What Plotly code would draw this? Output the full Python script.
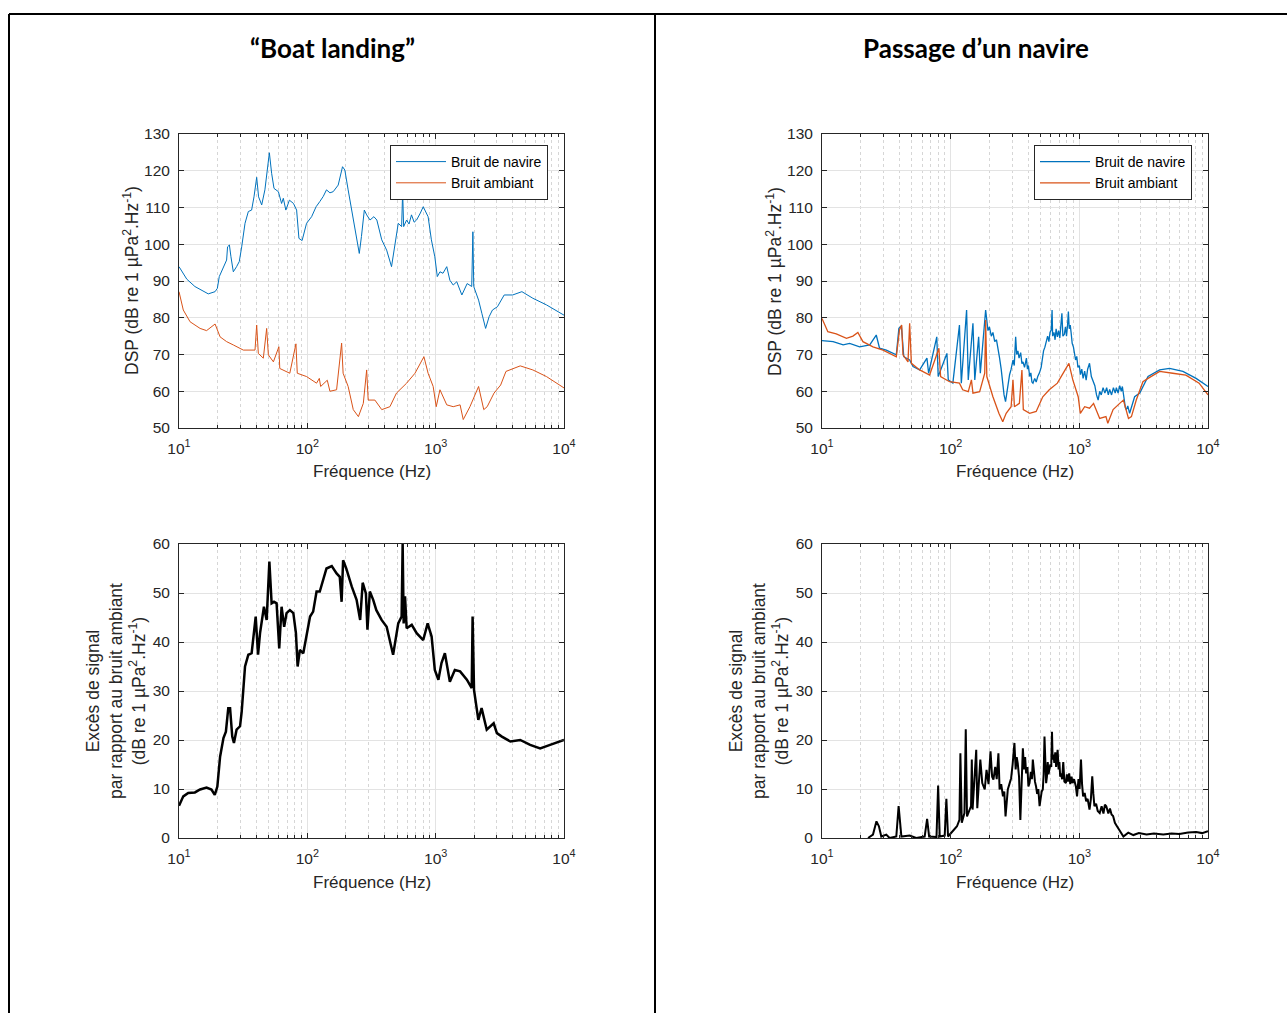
import plotly.graph_objects as go

W, H = 1287, 1013

# ---------------- DATA ----------------
# "Boat landing" - ship noise (Bruit de navire)
freq_bl_ship = [10, 11.5, 13.3, 14.6, 16.9, 19.1, 19.9, 20.6, 22.1, 23.5, 23.9, 24.7, 25.4, 26.5, 28.1,
                29.5, 30.8, 32.7, 34.7, 36.8, 38.4, 40.3, 41.7, 44.1, 46.7, 50.6, 52.7, 55, 59.5, 63, 65,
                68, 72.5, 78, 82.5, 86, 91, 98.6, 108, 117, 125, 133, 141, 150, 159, 174, 188, 196, 208,
                226, 243, 254, 264, 278, 290, 308, 330, 348, 380, 415, 453, 481, 511, 543, 553, 563,
                594, 620, 648, 680, 710, 760, 800, 873, 926, 985, 1030, 1080, 1140, 1220, 1290, 1370,
                1460, 1600, 1760, 1910, 1950, 1980, 2160, 2290, 2450, 2610, 2770, 3030, 3420, 3980,
                4700, 5720, 7300, 10000]
dsp_bl_ship = [93.9, 90.5, 88.5, 87.8, 86.5, 87.1, 88, 91.2, 93.9, 95.7, 99.3, 99.8, 96.6, 92.5, 93.9,
               95.3, 99.3, 105.7, 108.9, 109.3, 112.9, 118.2, 112.9, 110.7, 114.8, 124.9, 119.3, 115.2,
               114.3, 111.1, 112.5, 109.3, 112, 111.1, 109.3, 101.6, 101, 105.7, 107.5, 110.2, 111.6,
               113, 114.8, 114, 114.3, 116.1, 121.1, 120.2, 114.8, 107.5, 102.1, 97.5, 102.1, 109.3,
               108, 106.6, 107.5, 106.6, 101.2, 98.4, 93.9, 100.2, 105.7, 104.8, 114.3, 104.8, 106.6,
               105.5, 108, 106, 106.6, 108.5, 110.2, 107.5, 101.2, 96.6, 91.2, 92.5, 92.1, 93.9, 90.2,
               88.9, 89.8, 86.2, 89.3, 88.5, 103.4, 88.5, 84.8, 81.2, 77.1, 80.3, 82.1, 83, 86.2, 86.2,
               87.1, 85.3, 83.5, 80.7]

# "Boat landing" - ambient noise (Bruit ambiant)
freq_bl_amb = [10, 10.8, 12.2, 14.6, 16.4, 19.1, 20.9, 23.5, 26.5, 31.7, 39.1, 40.3, 41.5, 45.4, 48.2,
               49.7, 54.4, 60, 61, 73, 81.5, 83.5, 98.6, 118, 124, 127, 143, 150, 169, 185, 190, 208,
               228, 250, 273, 290, 298, 336, 380, 440, 495, 594, 690, 810, 873, 956, 1010, 1080, 1220,
               1370, 1550, 1640, 1850, 2160, 2370, 2520, 2850, 3210, 3530, 4560, 5720, 7300, 10000]
dsp_bl_amb = [87.1, 82.1, 78.9, 77.1, 76.5, 78.3, 74.8, 73.5, 72.6, 71.2, 71.2, 78.0, 70.3, 69, 77.1,
              69.9, 68, 72.1, 66.2, 64.9, 72.9, 64.9, 64, 62.2, 63.5, 61.3, 63, 60, 60.4, 73.1, 64.9,
              61.3, 55, 53.1, 56.7, 65.8, 57.6, 57.6, 55, 55.8, 59.5, 62.2, 64.9, 69.4, 64.9, 61.3,
              55.8, 60.4, 56.3, 55.8, 56.3, 52.3, 55.8, 61.3, 55, 55.8, 59.5, 61.7, 65.4, 66.9, 65.8,
              64, 60.9]

# "Passage d'un navire" - ship noise
freq_pn_ship = [10, 12.2, 14.6, 16.4, 19.6, 23.5, 26.4, 28, 31.6, 37.8, 39.6, 41.4, 43.2, 48, 51, 57.4,
                65.4, 67.4, 78, 80, 93.5, 95.8, 104, 117, 121, 133, 137, 149, 154, 165, 170, 187, 190,
                195, 200, 207, 213, 220, 227, 233, 240, 247, 254, 260, 267, 274, 280, 287, 295, 305,
                312, 320, 326, 333, 340, 350, 358, 365, 375, 388, 395, 402, 411, 420, 428, 436, 450,
                462, 475, 490, 505, 515, 527, 540, 555, 567, 580, 592, 605, 614, 620, 635, 648, 660,
                675, 690, 705, 718, 732, 745, 765, 780, 795, 810, 822, 835, 850, 863, 880, 900, 915,
                935, 955, 975, 1000, 1020, 1045, 1070, 1100, 1130, 1160, 1200, 1240, 1280, 1320, 1360,
                1400, 1440, 1480, 1530, 1580, 1630, 1680, 1720, 1780, 1840, 1900, 1940, 2000, 2060,
                2120, 2160, 2200, 2240, 2280, 2320, 2380, 2460, 2550, 2690, 2950, 3420, 4210, 5030,
                6380, 8080, 10000]
dsp_pn_ship = [73.8, 73.5, 72.6, 73, 72.1, 72.6, 75.3, 71.7, 71.2, 69.9, 77.1, 77.8, 69.4, 68.5, 66.7,
               65.8, 69, 64.9, 74.8, 64, 70.3, 63.1, 62.2, 78, 62.2, 82.1, 63.1, 78.5, 63.1, 74.8,
               64.9, 82.1, 80, 76.5, 77.5, 75, 76, 73.5, 74, 71, 69, 66, 62, 59, 57.2, 60, 62, 64.5,
               66, 68.5, 67, 74.8, 70, 71, 69, 70.5, 67.5, 68, 66.5, 69, 66, 67, 64, 65, 62.5, 62.2,
               63.5, 62.5, 64, 65, 66.5, 68.5, 71, 72, 73.5, 75, 73.5, 76, 76.7, 82.1, 75, 76, 74, 77,
               74.8, 76.5, 74.5, 77, 81.2, 75, 75.5, 77.5, 75, 78, 81.7, 77, 78, 76, 73, 72, 70, 68.5,
               69.5, 66.5, 67, 64.5, 66, 63.5, 65.5, 63, 66, 67.6, 64, 62.5, 61.5, 59, 57.6, 60, 59,
               61, 59.5, 61, 59, 60.5, 59, 61, 59.5, 61, 59.5, 61.5, 60, 61.3, 59, 57, 55.5, 55, 56,
               54, 56, 58.5, 59.5, 64, 65.8, 66.2, 65.4, 63.5, 61.3]

# "Passage d'un navire" - ambient noise
freq_pn_amb = [10, 11.1, 12.9, 15.5, 17.4, 19, 20.8, 24.9, 29.8, 35.6, 37.8, 40, 41.6, 42.6, 46.6, 48,
               49.5, 57.4, 68.6, 81, 83.5, 98, 117, 124, 137, 145, 149, 168, 184, 187, 191, 213, 237,
               254, 270, 295, 305, 313, 342, 358, 367, 411, 462, 520, 584, 675, 795, 830, 890, 980,
               1018, 1100, 1200, 1290, 1440, 1610, 1665, 1830, 2060, 2200, 2410, 2540, 2770, 3120,
               3420, 4210, 5320, 6730, 8530, 10000]
dsp_pn_amb = [79.8, 76.2, 75.6, 74.4, 75, 76, 73.5, 72.1, 71.2, 69.9, 69.4, 76.7, 78, 69.9, 68, 78.5,
              67.6, 65.8, 64.4, 71.7, 64, 62.6, 62.2, 60.4, 59.9, 63.1, 59.5, 59.9, 64.9, 79.4, 64,
              58.5, 54, 51.7, 54, 55.8, 63.1, 55.8, 56.7, 65.8, 55, 54, 54.5, 58.5, 60.4, 62.2, 66.7,
              67.6, 63.1, 58.5, 54, 55.8, 55.4, 56.7, 52.6, 53.1, 51.3, 55, 56.7, 57.6, 52.6, 53.1,
              57.6, 62.6, 63.5, 65.4, 64.9, 64.4, 62.2, 59]

# Signal excess - "Boat landing"
freq_bl_exc = [10, 10.8, 11.8, 13.3, 14.6, 16.4, 17.9, 19, 19.9, 20.9, 22.2, 23.2, 24.2, 25, 26, 26.8,
               28.1, 29.9, 30.8, 32.7, 34.7, 36.8, 39.6, 41.3, 42.8, 45.9, 48.2, 50.6, 52.7, 55, 57.6,
               60.4, 63, 66, 68.9, 73.1, 77.8, 81.5, 84, 87.5, 93, 98.9, 105, 111, 118, 125, 133, 141,
               155, 169, 179, 185, 190, 201, 222, 242, 258, 270, 286, 294, 307, 326, 345, 379, 415,
               453, 466, 511, 543, 553, 563, 577, 594, 651, 711, 800, 866, 930, 985, 1050, 1110, 1180,
               1290, 1410, 1550, 1750, 1910, 1940, 1990, 2150, 2280, 2500, 2830, 3000, 3280, 3820,
               4560, 5450, 6520, 7790, 10000]
exc_bl = [6.6, 8.5, 9.2, 9.3, 9.9, 10.3, 9.9, 8.8, 10.5, 16.6, 20.4, 21.7, 26.5, 26.5, 20.7, 19.4, 22.1,
          22.8, 25.8, 35, 37.4, 37.7, 45.2, 37.4, 41.8, 47.2, 44.5, 56.4, 47.9, 48.2, 47.9, 38.7, 47.2,
          43.1, 45.9, 46.5, 45.9, 41.8, 35, 38.4, 37.7, 41.4, 45.2, 46.2, 50.3, 50.3, 52.7, 55, 55.5,
          54, 53.3, 48.2, 56.7, 55, 51.3, 48.6, 44.5, 52.1, 49.9, 42.5, 50.3, 48.6, 46.5, 44.5, 43.1,
          39.1, 37.4, 43.8, 45.2, 60, 43.8, 49.3, 42.8, 43.5, 41.8, 40.4, 43.8, 41.1, 34.3, 32.3, 35.7,
          37.7, 31.9, 34.3, 34, 32.3, 30.6, 45.2, 30.2, 24.1, 26.5, 22.1, 23.4, 21.4, 20.7, 19.7, 20,
          19, 18.3, 19, 20]

# Signal excess - "Passage d'un navire"
freq_pn_exc = [22.8, 24.9, 26.5, 27.7, 28.9, 31.6, 33.5, 37.8, 39.4, 41.4, 48, 54, 62.8, 65.6, 68,
               77.6, 79.9, 82.2, 89.9, 92.6, 95.4, 104, 112, 117, 119, 122, 128, 131, 134, 144, 146,
               148, 158, 161, 170, 176, 184, 190, 197, 204, 210, 215, 222, 228, 235, 240, 247, 255,
               261, 267, 272, 278, 286, 295, 303, 313, 320, 326, 332, 340, 348, 356, 364, 372, 379,
               386, 395, 402, 410, 420, 428, 435, 445, 452, 461, 470, 480, 491, 500, 510, 520, 528,
               536, 544, 552, 560, 568, 576, 585, 595, 605, 613, 620, 630, 639, 650, 660, 670, 678,
               690, 700, 710, 720, 735, 750, 765, 786, 800, 815, 834, 850, 870, 887, 910, 940, 960,
               985, 1005, 1030, 1050, 1070, 1100, 1130, 1160, 1200, 1230, 1260, 1285, 1310, 1350,
               1390, 1440, 1490, 1540, 1580, 1620, 1680, 1730, 1780, 1830, 1890, 1950, 2000, 2070,
               2130, 2200, 2400, 2630, 2900, 3330, 3800, 4490, 5200, 6000, 7000, 8080, 9000, 10000]
exc_pn = [0, 0.7, 3.4, 2.4, 0.3, 0.7, 0, 0.3, 6.5, 0.3, 0.5, 0, 0.3, 3.9, 0.3, 0.2, 10.7, 0.3, 0.5, 8,
          0.3, 1.4, 2.4, 3.7, 17.3, 3.1, 5.1, 22.2, 4.4, 6.5, 16, 5.8, 18, 6.1, 16, 11.2, 9.9, 13.9,
          11, 17.7, 12.5, 11.9, 14.5, 12, 17.3, 9.9, 11, 8.5, 9.5, 4.4, 7.5, 9.9, 11, 12.2, 15,
          19.4, 14, 16.5, 15.3, 12.5, 3.7, 13, 18.3, 14, 16.5, 13.2, 14.5, 10.5, 11.2, 13.5, 12, 16,
          12.5, 11.5, 10.5, 9, 10, 6.5, 8, 9.5, 9.9, 13, 20.7, 14.5, 11.2, 12.5, 15.5, 13, 13.9, 15,
          14.5, 21.7, 16, 17, 15.3, 17.5, 14.5, 16.5, 18, 14, 15.5, 12.5, 13.2, 12, 15.5, 11.5,
          11.2, 13, 11.5, 13.2, 11, 12.5, 11.2, 12, 10.5, 8.5, 12, 10, 16, 11, 8.5, 9.2, 7.5, 8,
          5.8, 8, 12.6, 9, 6.5, 7, 5.5, 5.1, 6.5, 5, 6.8, 6.5, 5, 6, 4.8, 4.5, 3.1, 2.5, 2, 1.4, 0.8,
          0.3, 1.1, 0.6, 1, 0.7, 0.9, 0.7, 0.9, 0.8, 1.1, 1.2, 1.0, 1.4]

titles = ["\u201cBoat landing\u201d", "Passage d\u2019un navire"]
legend_names = ["Bruit de navire", "Bruit ambiant"]
xtick_vals = [10, 100, 1000, 10000]
xtick_text = ["10<sup>1</sup>", "10<sup>2</sup>", "10<sup>3</sup>", "10<sup>4</sup>"]
minor_vals = [m * d for d in (10, 100, 1000) for m in range(2, 10)]
xlabel = "Fréquence (Hz)"
ylabel_dsp = "DSP (dB re 1 µPa<sup>2</sup>.Hz<sup>-1</sup>)"
ylabel_exc = "Excès de signal<br>par rapport au bruit ambiant<br>(dB re 1 µPa<sup>2</sup>.Hz<sup>-1</sup>)"

BLUE = "#0072BD"
ORANGE = "#D95319"
AX = "#262626"
FONT = "Liberation Sans, Arial, sans-serif"

# ---------------- LAYOUT GEOMETRY (pixels) ----------------
cols = [(179, 564), (822, 1208)]
rows = [(134, 428), (544, 838)]


def px_x(x):
    return x / W


def px_y(y):
    return 1 - y / H


fig = go.Figure()

fig.add_trace(go.Scatter(x=freq_bl_ship, y=dsp_bl_ship, mode="lines", name=legend_names[0],
                         line=dict(color=BLUE, width=1), xaxis="x", yaxis="y", legend="legend"))
fig.add_trace(go.Scatter(x=freq_bl_amb, y=dsp_bl_amb, mode="lines", name=legend_names[1],
                         line=dict(color=ORANGE, width=1), xaxis="x", yaxis="y", legend="legend"))
fig.add_trace(go.Scatter(x=freq_pn_ship, y=dsp_pn_ship, mode="lines", name=legend_names[0],
                         line=dict(color=BLUE, width=1.3), xaxis="x2", yaxis="y2", legend="legend2"))
fig.add_trace(go.Scatter(x=freq_pn_amb, y=dsp_pn_amb, mode="lines", name=legend_names[1],
                         line=dict(color=ORANGE, width=1.3), xaxis="x2", yaxis="y2", legend="legend2"))
fig.add_trace(go.Scatter(x=freq_bl_exc, y=exc_bl, mode="lines", showlegend=False,
                         line=dict(color="black", width=2.5), xaxis="x3", yaxis="y3"))
fig.add_trace(go.Scatter(x=freq_pn_exc, y=exc_pn, mode="lines", showlegend=False,
                         line=dict(color="black", width=2), xaxis="x4", yaxis="y4"))


def xaxis(col, row, anchor):
    x0, x1 = cols[col]
    return dict(type="log", range=[1, 4], domain=[px_x(x0), px_x(x1)], anchor=anchor,
                tickvals=xtick_vals, ticktext=xtick_text, ticks="inside", ticklen=5,
                tickcolor=AX, tickwidth=1, showline=True, linecolor=AX, linewidth=1, mirror="allticks",
                showgrid=True, gridcolor="#e3e3e3", gridwidth=1, zeroline=False, automargin=False,
                ticklabelstandoff=6,
                tickfont=dict(family=FONT, size=15.5, color=AX),
                minor=dict(tickvals=minor_vals, ticks="inside", ticklen=3, tickcolor=AX,
                           showgrid=True, gridcolor="#d6d6d6", griddash="dot", gridwidth=1))


def yaxis(col, row, anchor, rng, dtick):
    y0, y1 = rows[row]
    return dict(range=rng, domain=[px_y(y1), px_y(y0)], anchor=anchor, dtick=dtick, ticks="inside",
                ticklen=5, tickcolor=AX, tickwidth=1, showline=True, linecolor=AX, linewidth=1,
                mirror="allticks", showgrid=True, gridcolor="#e3e3e3", gridwidth=1, zeroline=False,
                automargin=False, ticklabelstandoff=5,
                tickfont=dict(family=FONT, size=15.5, color=AX))


fig.update_layout(
    width=W, height=H, autosize=False,
    margin=dict(l=0, r=0, t=0, b=0, pad=0, autoexpand=False),
    paper_bgcolor="white", plot_bgcolor="white",
    font=dict(family=FONT, color=AX),
    xaxis=xaxis(0, 0, "y"), yaxis=yaxis(0, 0, "x", [50, 130], 10),
    xaxis2=xaxis(1, 0, "y2"), yaxis2=yaxis(1, 0, "x2", [50, 130], 10),
    xaxis3=xaxis(0, 1, "y3"), yaxis3=yaxis(0, 1, "x3", [0, 60], 10),
    xaxis4=xaxis(1, 1, "y4"), yaxis4=yaxis(1, 1, "x4", [0, 60], 10),
    legend=dict(x=px_x(548), y=px_y(145), xanchor="right", yanchor="top", bgcolor="white",
                bordercolor=AX, borderwidth=1, font=dict(family=FONT, size=14, color="black"),
                tracegroupgap=0, itemwidth=50),
    legend2=dict(x=px_x(1192), y=px_y(145), xanchor="right", yanchor="top", bgcolor="white",
                 bordercolor=AX, borderwidth=1, font=dict(family=FONT, size=14, color="black"),
                 tracegroupgap=0, itemwidth=50),
)

annotations = []
for i, t in enumerate(titles):
    cx = (9 + 655) / 2 if i == 0 else (655 + 1297) / 2
    annotations.append(dict(text="<b>" + t + "</b>", x=px_x(cx), y=px_y(48), xref="paper", yref="paper",
                            xanchor="center", yanchor="middle", showarrow=False,
                            font=dict(family="Lato, Carlito, sans-serif", size=26, color="black")))
for c, (x0, x1) in enumerate(cols):
    for r, (y0, y1) in enumerate(rows):
        annotations.append(dict(text=xlabel, x=px_x((x0 + x1) / 2), y=px_y(y1 + 44), xref="paper",
                                yref="paper", xanchor="center", yanchor="middle", showarrow=False,
                                font=dict(family=FONT, size=17, color=AX)))
        if r == 0:
            annotations.append(dict(text=ylabel_dsp, x=px_x(x0 - 48), y=px_y((y0 + y1) / 2),
                                    xref="paper", yref="paper", xanchor="center", yanchor="middle",
                                    textangle=-90, showarrow=False,
                                    font=dict(family=FONT, size=17.5, color=AX)))
        else:
            annotations.append(dict(text=ylabel_exc, x=px_x(x0 - 63), y=px_y((y0 + y1) / 2),
                                    xref="paper", yref="paper", xanchor="center", yanchor="middle",
                                    textangle=-90, showarrow=False,
                                    font=dict(family=FONT, size=17.5, color=AX)))
fig.update_layout(annotations=annotations)

shapes = [
    dict(type="line", xref="paper", yref="paper", x0=px_x(9), x1=1, y0=px_y(14), y1=px_y(14),
         line=dict(color="black", width=2)),
    dict(type="line", xref="paper", yref="paper", x0=px_x(9), x1=px_x(9), y0=px_y(14), y1=0,
         line=dict(color="black", width=2)),
    dict(type="line", xref="paper", yref="paper", x0=px_x(655), x1=px_x(655), y0=px_y(14), y1=0,
         line=dict(color="black", width=2)),
]
fig.update_layout(shapes=shapes)

fig.write_html("out.html", config=dict(displayModeBar=False),
               post_script="document.body.style.margin='0';document.body.style.padding='0';"
                           "document.documentElement.style.overflow='hidden';")
